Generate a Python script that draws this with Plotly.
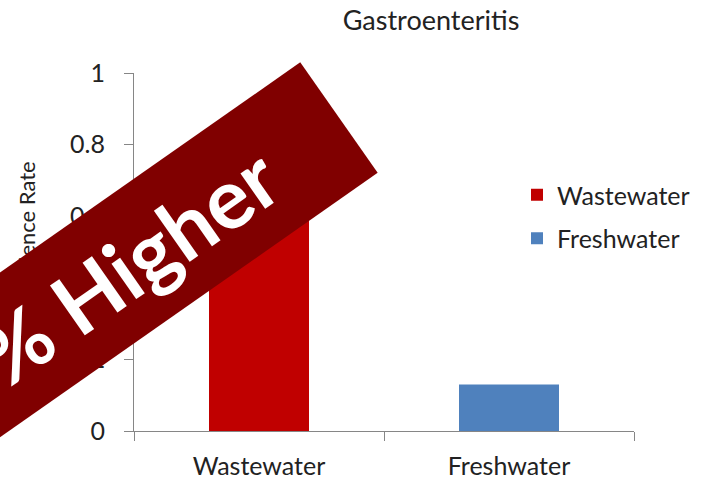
import math
import plotly.graph_objects as go

# data
categories = ["Wastewater", "Freshwater"]
incidence = [0.65, 0.13]
colors = ["#C00000", "#4F81BD"]
banner_text = "% Higher"

# plot area in pixels (width 711, height 480)
L, R, T, B = 134, 77, 73, 49
W, H = 711 - L - R, 480 - T - B


def px(x, y):
    # pixel -> paper coords
    return (x - L) / W, (480 - B - y) / H


fig = go.Figure()
for cat, val, col in zip(categories, incidence, colors):
    fig.add_trace(go.Bar(x=[cat], y=[val], name=cat, marker_color=col,
                         marker_line_width=0, width=0.4, legendgroup=cat))

# y-axis title (partly hidden by banner / edge)
tx, ty = px(27, 232)
fig.add_annotation(x=tx, y=ty, xref="paper", yref="paper", text="Incidence Rate",
                   textangle=-90, showarrow=False, xanchor="center", yanchor="middle",
                   font=dict(family="Lato", size=22, color="#222"))

# rotated banner, drawn as annotation background
ang = 35
bw, bh = 900, 134
cx = 338.5 - bw / 2 * math.cos(math.radians(ang))
cy = 118 + bw / 2 * math.sin(math.radians(ang))
bx, by = px(cx, cy)
fig.add_annotation(x=bx, y=by, xref="paper", yref="paper",
                   text="<b>" + banner_text + "</b>" + "&nbsp;" * 4,
                   textangle=-ang, showarrow=False, xanchor="center", yanchor="middle",
                   width=bw, height=bh, align="right", valign="middle",
                   bgcolor="#800000", borderpad=0,
                   font=dict(family="Lato", size=84, color="white"))

fig.update_layout(
    width=711, height=480,
    margin=dict(l=L, r=R, t=T, b=B),
    paper_bgcolor="white", plot_bgcolor="white",
    title=dict(text="Gastroenteritis", x=431 / 711, xanchor="center", y=1 - 21 / 480,
               yanchor="middle", font=dict(family="Lato", size=27, color="#222")),
    bargap=0.6,
    showlegend=True,
    legend=dict(x=px(517, 0)[0], y=px(0, 216.5)[1], xanchor="left", yanchor="middle",
                font=dict(family="Lato", size=25, color="#222"), itemwidth=30,
                tracegroupgap=8),
    font=dict(family="Lato", color="#222"),
)
fig.update_xaxes(showline=True, linecolor="#868686", linewidth=1, ticks="outside",
                 tickson="boundaries", ticklen=9, tickcolor="#868686",
                 tickfont=dict(size=25), ticklabelstandoff=13, showgrid=False,
                 automargin=False)
fig.update_yaxes(range=[0, 1], dtick=0.2, showline=True, linecolor="#868686", linewidth=1,
                 ticks="outside", ticklen=9, tickcolor="#868686", tickfont=dict(size=25),
                 ticklabelstandoff=14, showgrid=False, zeroline=False, automargin=False)

fig.write_html("out.html", config={"displayModeBar": False},
               post_script="document.body.style.margin='0';")
